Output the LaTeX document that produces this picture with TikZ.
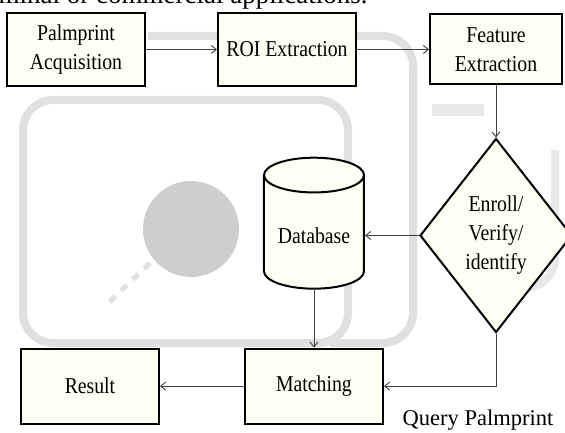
\documentclass[tikz,border=0pt]{standalone}
\usepackage{fontspec}
\setmainfont{Liberation Serif}
\newfontfamily\chartfont[FakeStretch=0.87]{Liberation Serif}
\usetikzlibrary{arrows.meta,positioning,shapes.geometric}
\definecolor{boxfill}{RGB}{254,254,242}
\definecolor{wmgray}{RGB}{224,224,224}
\definecolor{wmdark}{RGB}{206,206,206}

\begin{document}
\begin{tikzpicture}[x=1pt,y=-1pt,
      mybox/.style={
         rectangle,
         draw=black,
         line width=2pt,
         fill=boxfill,
         align=center,
         inner sep=2pt,
         minimum width=138pt,
         minimum height=73pt,
         font=\chartfont\fontsize{22.7}{29}\selectfont},
      mydiamond/.style={
         diamond,
         draw=black,
         line width=2pt,
         fill=boxfill,
         align=center,
         inner sep=0pt,
         minimum width=152pt,
         minimum height=194pt,
         font=\chartfont\fontsize{22.7}{29}\selectfont},
      mydb/.style={
         cylinder,
         shape border rotate=90,
         aspect=0.44,
         draw=black,
         line width=2pt,
         fill=boxfill,
         minimum width=100pt,
         minimum height=131pt,
         font=\chartfont\fontsize{22.7}{29}\selectfont},
      myarrow/.style={-{Straight Barb[length=5pt,width=8pt]},draw=black!75,line width=0.9pt},
      mywater/.style={draw=wmgray,line width=8pt,rounded corners=30pt},
      node distance=71pt and 71pt
      ]
      \useasboundingbox (0,0) rectangle (565,433);

      % faint logo behind the chart
      \begin{scope}
      \clip (0,0) rectangle (565,433);
      \draw[mywater] (23,100) rectangle (348,343);
      \draw[mywater] (148,36) -- (413,36) -- (413,343) -- (330,343);
      \draw[mywater,draw=wmgray!70] (470,288) -- (555,288) -- (555,150);
      \draw[mywater,draw=wmgray!70,line width=12pt,rounded corners=0pt] (432,110) -- (484,110);
      \fill[wmdark] (191,229) circle (48);
      \draw[wmgray,line width=5pt,dash pattern=on 8pt off 8pt] (150,263) -- (105,306);
      \node[anchor=base east,font=\fontsize{27}{30}\selectfont] (topline) at (371,4) {terminal or commercial applications.};
      \end{scope}

      \node[mybox] (acq) at (76,49.5) {Palmprint\\Acquisition};
      \node[mybox,right=71pt of acq] (roi) {ROI Extraction};
      \node[mybox,right=72pt of roi,minimum width=132pt,minimum height=70pt] (feat) {Feature\\Extraction};
      \node[mydiamond,below=52pt of feat] (dec) {Enroll/\\Verify/\\identify};
      \node[mydb,left=54pt of dec] (db) {Database};
      \node[mybox,below=58pt of db,minimum height=75pt] (match) {Matching};
      \node[mybox,left=84pt of match,minimum height=75pt] (res) {Result};
      \node[font=\fontsize{22.5}{26}\selectfont,anchor=base] (query) at (478,425) {Query Palmprint};

    \foreach \i/\j in {% start node/end node
      acq/roi,
      roi/feat,
      feat/dec,
      dec/db,
      db/match,
      match/res}
       \draw [myarrow] (\i) -- (\j);
    \draw [myarrow] (dec.south) |- (match.east);

\end{tikzpicture}
\end{document}
